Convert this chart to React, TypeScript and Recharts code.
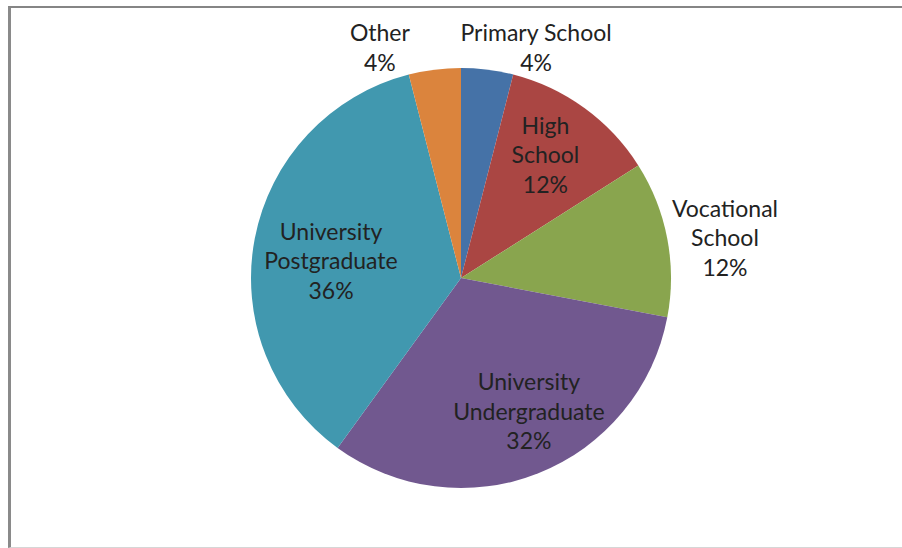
import React from "react";
import { PieChart, Pie, Cell } from "recharts";

const categories = [
  "Primary School",
  "High School",
  "Vocational School",
  "University Undergraduate",
  "University Postgraduate",
  "Other",
];
const shares = [4, 12, 12, 32, 36, 4];

const COLORS = ["#4572A7", "#AA4643", "#89A54E", "#71588F", "#4198AF", "#DB843D"];

// label layout: radial factor, offsets, whether name wraps
const LABEL_LAYOUT = [
  { r: 1.105, dx: 46, dy: -1, wrap: false },
  { r: 0.70, dx: -2, dy: -5, wrap: true },
  { r: 1.27, dx: 2, dy: 9, wrap: true },
  { r: 0.71, dx: 13, dy: -6, wrap: true },
  { r: 0.63, dx: 0, dy: 7, wrap: true },
  { r: 1.105, dx: -52, dy: -1, wrap: false },
];

const data = categories.map((name, i) => ({ name, value: shares[i] }));

const FONT = "Lato, 'Open Sans', sans-serif";
const FONT_SIZE = 23;
const LINE_H = 29.5;
const RAD = Math.PI / 180;

const renderLabel = (props: any) => {
  const { cx, cy, midAngle, outerRadius, index, name, value } = props;
  const lay = LABEL_LAYOUT[index];
  const r = outerRadius * lay.r;
  const x = cx + r * Math.cos(-midAngle * RAD) + lay.dx;
  const y = cy + r * Math.sin(-midAngle * RAD) + lay.dy;
  const lines = (lay.wrap ? String(name).split(" ") : [String(name)]).concat([`${value}%`]);
  const y0 = y - ((lines.length - 1) / 2) * LINE_H;
  return (
    <text
      key={`lbl-${index}`}
      x={x}
      y={y0}
      textAnchor="middle"
      dominantBaseline="central"
      fill="#222222"
      fontFamily={FONT}
      fontSize={FONT_SIZE}
    >
      {lines.map((t, k) => (
        <tspan key={k} x={x} y={y0 + k * LINE_H}>
          {t}
        </tspan>
      ))}
    </text>
  );
};

export default function App() {
  return (
    <div style={{ position: "absolute", left: 0, top: 0, width: 902, height: 548, background: "#fff" }}>
      <div
        style={{
          position: "absolute",
          left: 8,
          top: 6,
          width: 900,
          height: 539,
          borderLeft: "3px solid #8a8a8a",
          borderTop: "2px solid #858585",
          borderBottom: "1px solid #d6d6d6",
        }}
      />
      <div style={{ position: "absolute", left: 0, top: 0 }}>
        <PieChart width={902} height={548} margin={{ top: 0, right: 0, bottom: 0, left: 0 }}>
          <Pie
            data={data}
            dataKey="value"
            nameKey="name"
            cx={461}
            cy={278}
            outerRadius={210}
            startAngle={90}
            endAngle={-270}
            stroke="none"
            label={renderLabel}
            labelLine={false}
            isAnimationActive={false}
          >
            {data.map((d, i) => (
              <Cell key={d.name} fill={COLORS[i]} />
            ))}
          </Pie>
        </PieChart>
      </div>
    </div>
  );
}
